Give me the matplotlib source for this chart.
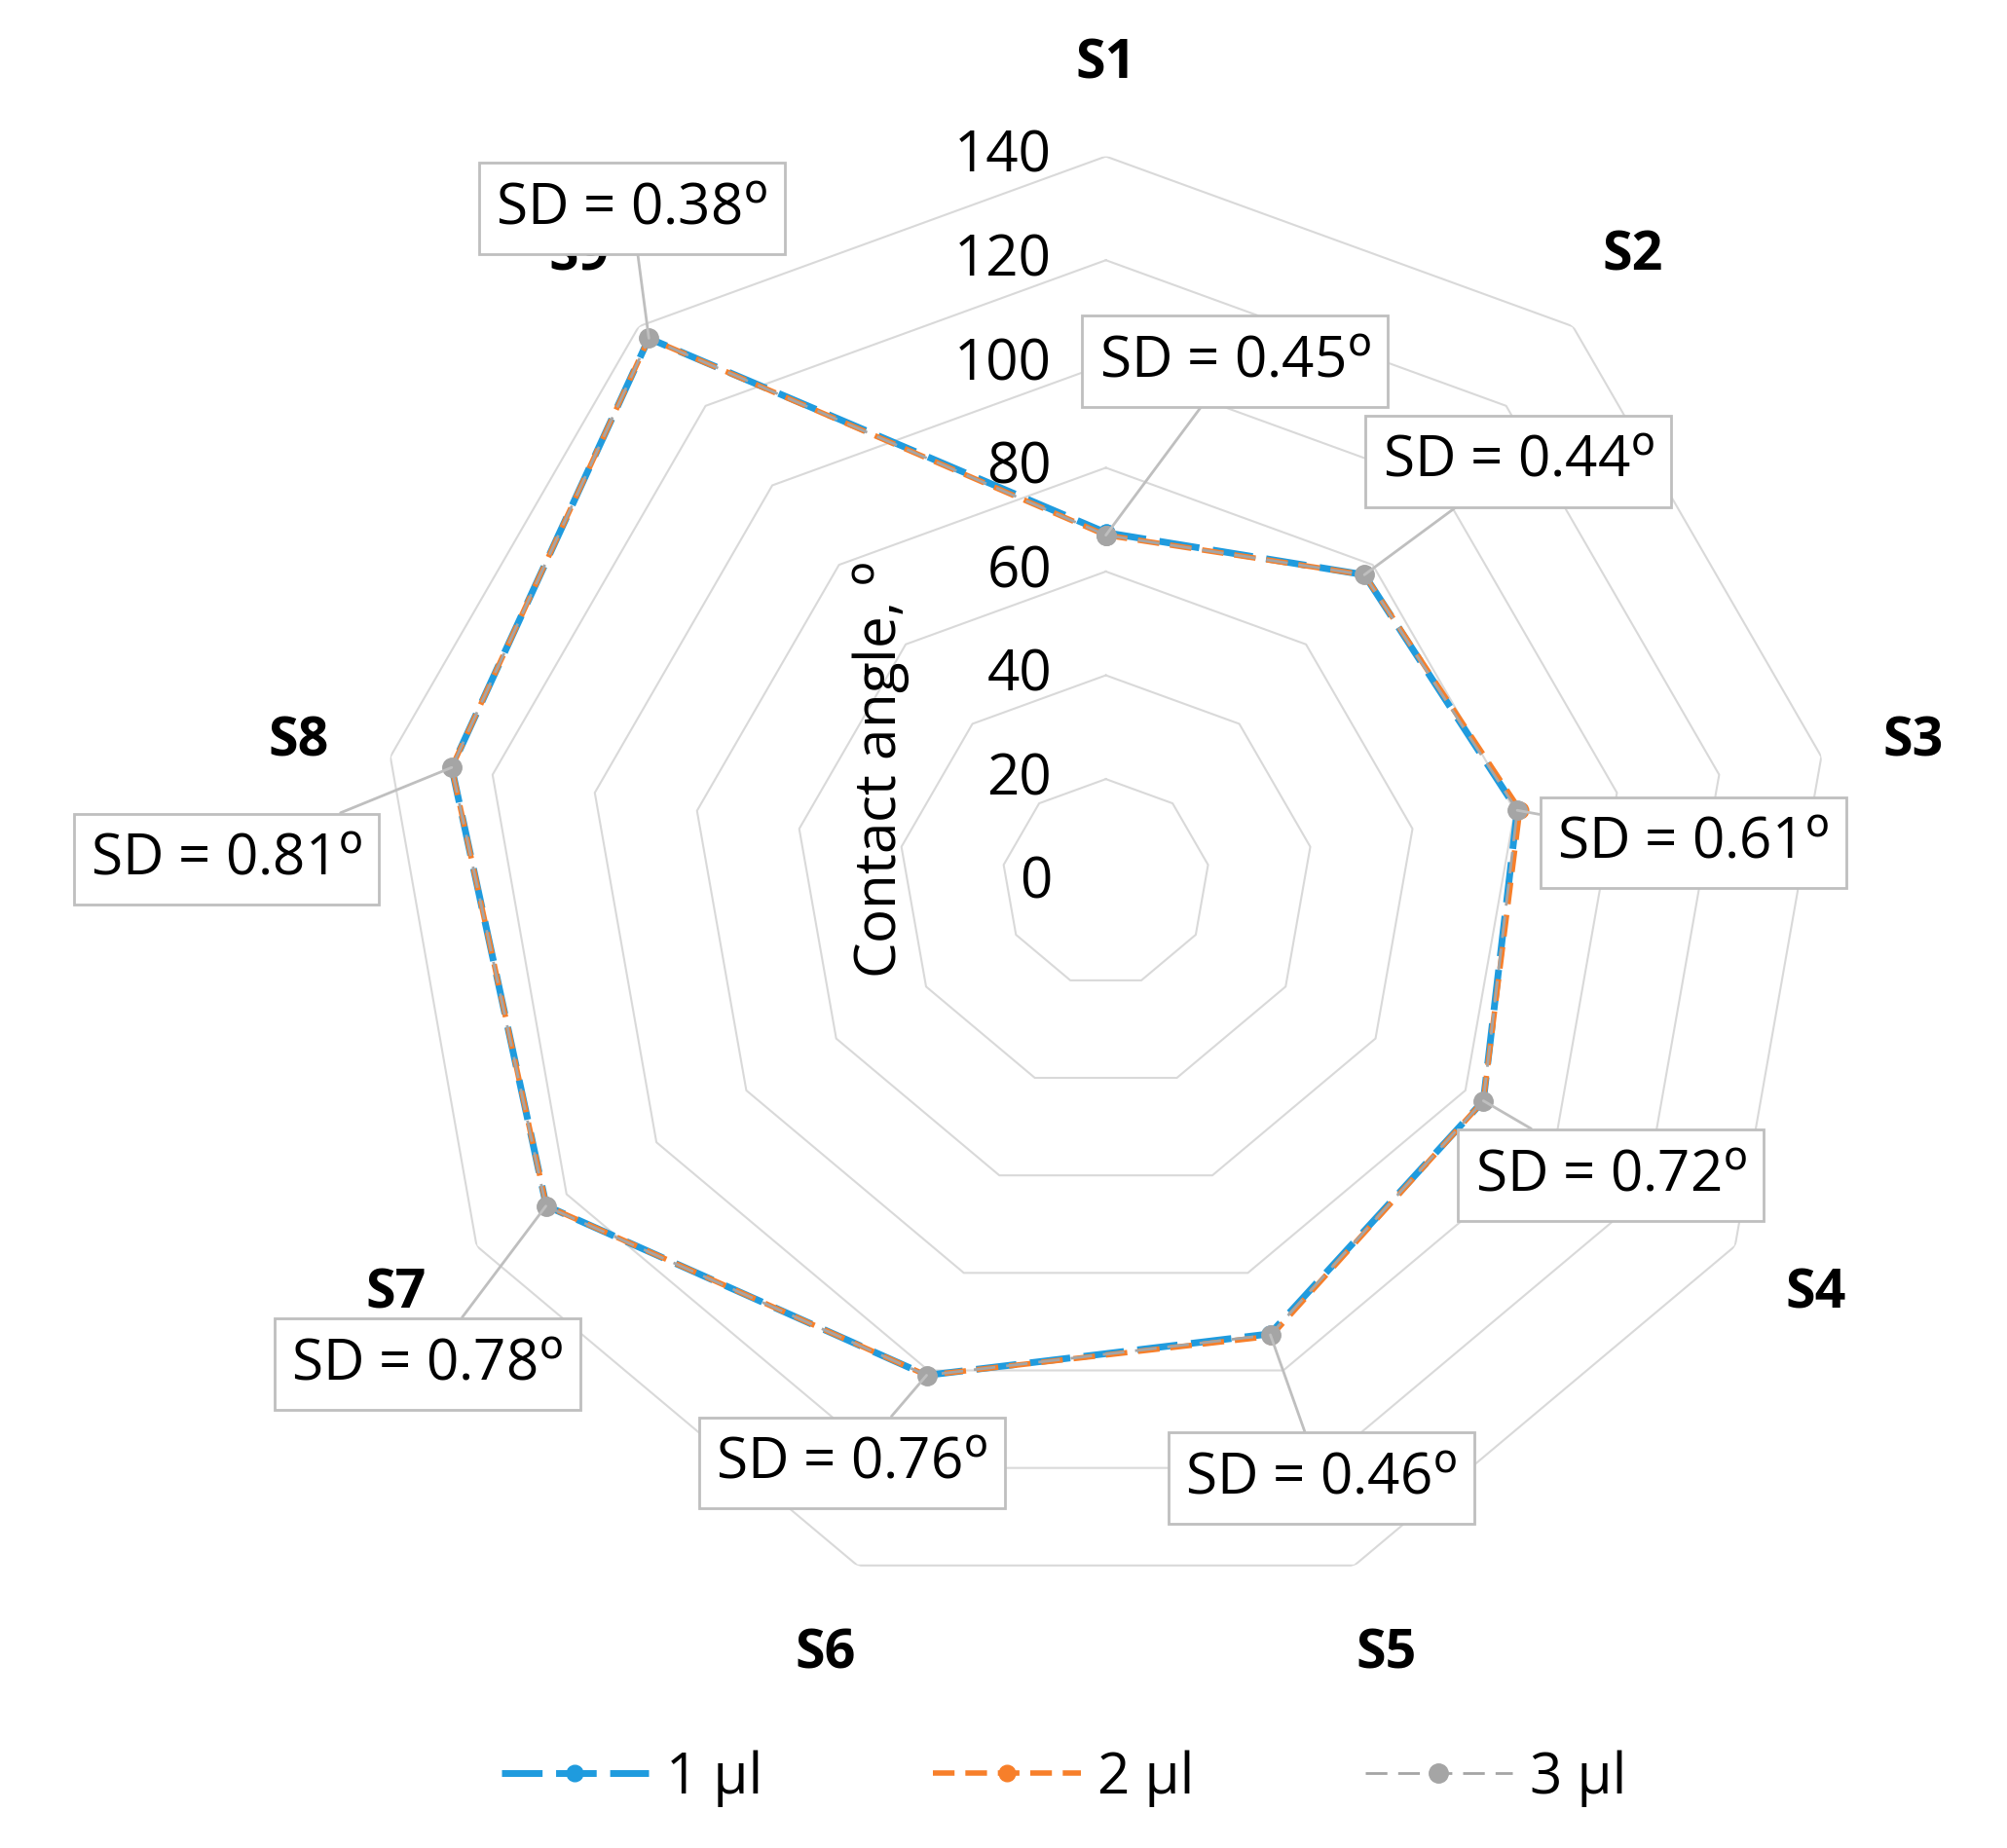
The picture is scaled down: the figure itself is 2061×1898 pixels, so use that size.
import numpy as np
import matplotlib
matplotlib.use("Agg")
import matplotlib.pyplot as plt

plt.rcParams['font.family'] = ['Open Sans', 'DejaVu Sans']

categories = ['S1', 'S2', 'S3', 'S4', 'S5', 'S6', 'S7', 'S8', 'S9']
v1 = [67.5, 77.5, 80.5, 84, 92.5, 101, 124.5, 128, 137]
v2 = [67, 77.5, 81, 84, 93, 101, 124.5, 128, 137]
v3 = [67, 77.5, 80.5, 84, 92.7, 101, 124.6, 128, 137]
sd_labels = ['0.45', '0.44', '0.61', '0.72', '0.46', '0.76', '0.78', '0.81', '0.38']
ticks = [0, 20, 40, 60, 80, 100, 120, 140]
box_pos = [(960, 282), (1180, 360), (1316, 657), (1252, 916), (1027, 1152),
           (662, 1140), (332, 1063), (176, 670), (491, 163)]

fig = plt.figure(figsize=(20.61, 18.99), dpi=100)
ax = fig.add_axes([0.189, 0.129, 0.724, 0.786], projection='polar')
ax.set_theta_zero_location('N')
ax.set_theta_direction(-1)
ax.set_ylim(0, 140)
ax.axis('off')

n = len(categories)
th = np.linspace(0, 2 * np.pi, n, endpoint=False)
thc = np.append(th, th[0])
grid_c = '#d9d9d9'
for t in ticks[1:]:
    ax.plot(thc, [t] * (n + 1), color=grid_c, lw=1.5, zorder=1)

def closed(v):
    return list(v) + [v[0]]

ax.plot(thc, closed(v1), color='#1f9bde', lw=5, ls=(0, (6, 2)), marker='o', ms=12, zorder=3, label='1 µl')
ax.plot(thc, closed(v2), color='#f77f2a', lw=4, ls=(0, (4, 2)), marker='o', ms=12, zorder=4, label='2 µl')
ax.plot(thc, closed(v3), color='#a5a5a5', lw=2, ls=(0, (8, 4)), marker='o', ms=14, zorder=5, label='3 µl')

for t in ticks:
    ax.annotate(str(t), xy=(0, t), xytext=(-40, 0), textcoords='offset points',
                ha='right', va='center', fontsize=42, color='black', zorder=6)

for a, c in zip(th, categories):
    ax.text(a, 158, c, ha='center', va='center', fontsize=40, fontweight='bold')

fig.text(685 / 1560, 1 - 600 / 1440, 'Contact angle, $^{\\mathrm{o}}$', rotation=90,
         ha='center', va='center', fontsize=42)

for i, (lab, (bx, by)) in enumerate(zip(sd_labels, box_pos)):
    ax.annotate('SD = ' + lab + '$^{\\mathrm{o}}$', xy=(th[i], v3[i]),
                xytext=(bx / 1560, 1 - by / 1440), textcoords='figure fraction',
                ha='center', va='center', fontsize=42, zorder=7,
                bbox=dict(boxstyle='square,pad=0.3', fc='white', ec='#bfbfbf', lw=2),
                arrowprops=dict(arrowstyle='-', color='#bfbfbf', lw=2, shrinkA=0, shrinkB=0))

fig.legend(loc='center', bbox_to_anchor=(0.53, 0.038), ncol=3, frameon=False,
           fontsize=42, handlelength=2.6, columnspacing=3, handletextpad=0.3)

fig.savefig('out.png', dpi=100, facecolor='white')
